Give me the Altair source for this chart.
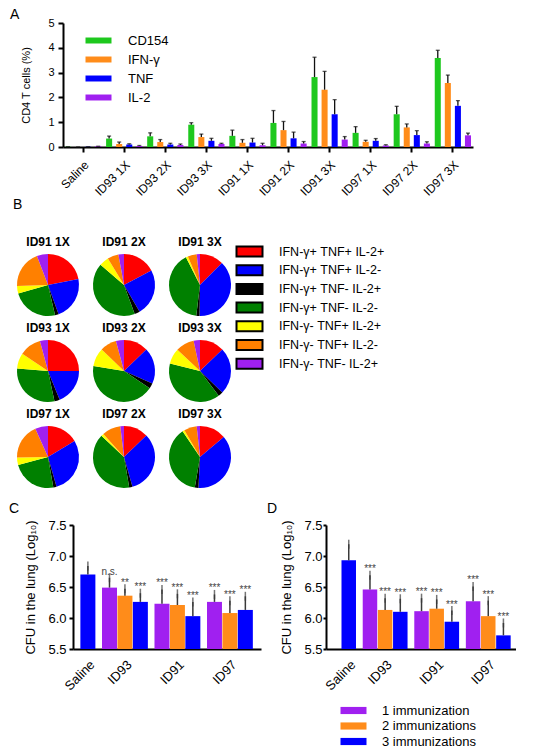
import altair as alt
import pandas as pd

FONT = "Liberation Sans"

# ---------------- Panel A data ----------------
groups_a = ["Saline", "ID93 1X", "ID93 2X", "ID93 3X", "ID91 1X",
            "ID91 2X", "ID91 3X", "ID97 1X", "ID97 2X", "ID97 3X"]
markers_a = ["CD154", "IFN-\u03b3", "TNF", "IL-2"]
cd154_mean = [0.01, 0.34, 0.43, 0.90, 0.45, 0.97, 2.82, 0.57, 1.32, 3.59]
cd154_sem = [0.00, 0.10, 0.14, 0.08, 0.23, 0.50, 0.80, 0.25, 0.32, 0.31]
ifng_mean = [0.00, 0.12, 0.20, 0.40, 0.17, 0.68, 2.31, 0.21, 0.79, 2.58]
ifng_sem = [0.00, 0.08, 0.10, 0.12, 0.13, 0.35, 0.74, 0.06, 0.14, 0.32]
tnf_mean = [0.01, 0.10, 0.10, 0.25, 0.18, 0.35, 1.32, 0.25, 0.48, 1.66]
tnf_sem = [0.00, 0.03, 0.05, 0.10, 0.17, 0.25, 0.59, 0.09, 0.18, 0.21]
il2_mean = [0.03, 0.04, 0.08, 0.12, 0.07, 0.14, 0.30, 0.06, 0.14, 0.47]
il2_sem = [0.00, 0.02, 0.04, 0.03, 0.08, 0.08, 0.12, 0.03, 0.07, 0.09]
colors_a = ["#1ec81e", "#ff8c1a", "#0000ff", "#a020f0"]

# ---------------- Panel B data ----------------
samples_b = ["ID91 1X", "ID91 2X", "ID91 3X",
             "ID93 1X", "ID93 2X", "ID93 3X",
             "ID97 1X", "ID97 2X", "ID97 3X"]
subsets_b = ["IFN-\u03b3+ TNF+ IL-2+", "IFN-\u03b3+ TNF+ IL-2-", "IFN-\u03b3+ TNF- IL-2+",
             "IFN-\u03b3+ TNF- IL-2-", "IFN-\u03b3- TNF+ IL-2+", "IFN-\u03b3- TNF+ IL-2-",
             "IFN-\u03b3- TNF- IL-2+"]
pie_pct = {
    "ID91 1X": [21.9, 22.5, 1.9, 24.2, 3.9, 19.7, 5.8],
    "ID91 2X": [17.2, 24.4, 2.8, 41.9, 5.0, 5.8, 2.9],
    "ID91 3X": [12.5, 37.8, 1.7, 40.6, 1.1, 4.7, 1.7],
    "ID93 1X": [25.0, 18.9, 2.8, 29.7, 8.1, 11.4, 4.2],
    "ID93 2X": [12.8, 18.9, 2.8, 43.1, 9.7, 8.6, 4.2],
    "ID93 3X": [12.8, 24.4, 2.5, 39.2, 8.1, 9.7, 3.3],
    "ID97 1X": [16.4, 29.2, 1.7, 23.6, 3.9, 18.6, 6.7],
    "ID97 2X": [12.8, 32.8, 1.7, 39.7, 1.4, 9.7, 1.9],
    "ID97 3X": [13.9, 36.9, 1.9, 37.8, 1.1, 6.7, 1.7],
}
colors_b = ["#ff0000", "#0000ff", "#000000", "#008000", "#ffff00", "#ff8000", "#a020f0"]

# ---------------- Panels C / D data ----------------
vaccines = ["ID93", "ID91", "ID97"]
imm_labels = ["1 immunization", "2 immunizations", "3 immunizations"]
colors_cd = ["#a020f0", "#ff8c1a", "#0000ff"]

c_saline_mean, c_saline_sem = 6.70, 0.14
c_mean = [[6.49, 6.36, 6.26], [6.23, 6.21, 6.03], [6.26, 6.08, 6.13]]
c_sem = [[0.16, 0.11, 0.14], [0.23, 0.18, 0.23], [0.12, 0.20, 0.22]]
c_sig = [["n.s.", "**", "***"], ["***", "***", "***"], ["***", "***", "***"]]

d_saline_mean, d_saline_sem = 6.93, 0.26
d_mean = [[6.46, 6.13, 6.10], [6.11, 6.15, 5.94], [6.27, 6.03, 5.72]]
d_sem = [[0.23, 0.19, 0.21], [0.21, 0.15, 0.18], [0.24, 0.25, 0.20]]
d_sig = [["***", "***", "***"], ["***", "***", "***"], ["***", "***", "***"]]


def spacer():
    return alt.Chart(pd.DataFrame({"v": [0]})).mark_point(opacity=0).encode(
        x=alt.X("v:Q", axis=None), y=alt.Y("v:Q", axis=None)
    ).properties(width=1, height=1)


# ================= Panel A =================
rows = []
series = [(cd154_mean, cd154_sem), (ifng_mean, ifng_sem), (tnf_mean, tnf_sem), (il2_mean, il2_sem)]
for gi, g in enumerate(groups_a):
    for mi, m in enumerate(markers_a):
        mean, sem = series[mi][0][gi], series[mi][1][gi]
        rows.append({"group": g, "marker": m, "mean": mean, "top": mean + sem})
dfA = pd.DataFrame(rows)


def yA(field):
    return alt.Y(field, scale=alt.Scale(domain=[0, 5]),
                 axis=alt.Axis(title="CD4 T cells (%)", values=[0, 1, 2, 3, 4, 5],
                               labelOverlap=False, labelFontSize=11, titleFontSize=11,
                               titleFontWeight="normal", tickSize=5, tickWidth=2,
                               domainWidth=2, labelPadding=4, titlePadding=16))


baseA = alt.Chart(dfA).encode(
    x=alt.X("group:N", sort=groups_a,
            scale=alt.Scale(paddingInner=0.02, paddingOuter=0.0),
            axis=alt.Axis(title=None, labelAngle=-45, labelFontSize=12, labelPadding=7,
                          tickSize=5, tickWidth=2, domainWidth=2)),
    xOffset=alt.XOffset("marker:N", sort=markers_a,
                        scale=alt.Scale(paddingInner=0.4, paddingOuter=0.2)),
)
barsA = baseA.mark_bar().encode(
    y=yA("mean:Q"),
    color=alt.Color("marker:N", sort=markers_a,
                    scale=alt.Scale(domain=markers_a, range=colors_a),
                    legend=alt.Legend(title=None, orient="none", legendX=28, legendY=10,
                                      symbolType="M-2,-0.46H2V0.46H-2Z", symbolSize=169,
                                      symbolOpacity=1, labelFontSize=13, labelOffset=22,
                                      rowPadding=4, padding=0)),
)
errA = baseA.mark_rule(color="#111111", strokeWidth=1.3).encode(y=yA("mean:Q"), y2="top:Q")
capA = baseA.mark_tick(color="#111111", thickness=1.3, size=4).encode(y=yA("top:Q"))

A = alt.layer(barsA, errA, capA).properties(
    width=410, height=124,
    title=alt.TitleParams("A", anchor="start", frame="bounds", fontSize=14,
                          fontWeight="normal", dx=-11, offset=-5))

# ================= Panel B =================
rowsB = []
for s in samples_b:
    for k, sub in enumerate(subsets_b):
        rowsB.append({"sample": s, "subset": sub, "pct": pie_pct[s][k], "idx": k})
dfB = pd.DataFrame(rowsB)

B = alt.Chart(dfB).mark_arc().encode(
    theta=alt.Theta("pct:Q", stack=True),
    color=alt.Color("subset:N", sort=subsets_b,
                    scale=alt.Scale(domain=subsets_b, range=colors_b),
                    legend=alt.Legend(title=None, orient="none", legendX=225, legendY=-10,
                                      symbolType="M-2,-0.77H2V0.77H-2Z", symbolSize=169,
                                      symbolStrokeColor="black", symbolStrokeWidth=2,
                                      symbolOpacity=1, labelFontSize=12.5, labelOffset=22,
                                      rowPadding=-0.3, padding=0)),
    order=alt.Order("idx:Q"),
).properties(width=62, height=62).facet(
    facet=alt.Facet("sample:N", sort=samples_b,
                    header=alt.Header(title=None, labelFontWeight="bold", labelFontSize=12,
                                      labelPadding=5, labelFont=FONT)),
    columns=3, spacing={"row": 6, "column": 14},
).properties(
    title=alt.TitleParams("B", anchor="start", frame="bounds", fontSize=14,
                          fontWeight="normal", dx=-4, offset=24))


# ================= Panels C / D =================
def cfu_table(sal_mean, sal_sem, means, sems, sigs):
    out = [{"grp": "Saline", "imm": imm_labels[2], "pos": 0.0,
            "mean": sal_mean, "top": sal_mean + sal_sem, "sig": ""}]
    slot = 1
    centers = [0.0]
    for gi, v in enumerate(vaccines):
        for k in range(3):
            pos = slot + 0.4 * (gi + 1)
            out.append({"grp": v, "imm": imm_labels[k], "pos": pos,
                        "mean": means[gi][k], "top": means[gi][k] + sems[gi][k],
                        "sig": sigs[gi][k]})
            if k == 1:
                centers.append(pos)
            slot += 1
    return pd.DataFrame(out), centers


def cfu_chart(df, centers, letter, width, domain, bar_w, tick_size, label_pad, legend, title_dx):
    names = ["Saline"] + vaccines
    expr = "''"
    for c, n in reversed(list(zip(centers, names))):
        expr = f"abs(datum.value - {c}) < 0.01 ? '{n}' : ({expr})"

    def yCD(field):
        return alt.Y(field, scale=alt.Scale(domain=[5.5, 7.5], nice=False, zero=False),
                     axis=alt.Axis(title="CFU in the lung  (Log\u2081\u2080)",
                                   values=[5.5, 6.0, 6.5, 7.0, 7.5], format=".1f",
                                   labelOverlap=False,
                                   labelFontSize=13, titleFontSize=13, titleFontWeight="normal",
                                   tickSize=tick_size, tickWidth=2, domainWidth=2,
                                   labelPadding=label_pad, titlePadding=10))

    base = alt.Chart(df).encode(
        x=alt.X("pos:Q", scale=alt.Scale(domain=domain, nice=False, zero=False),
                axis=alt.Axis(title=None, values=centers, labelExpr=expr, labelAngle=-45,
                              labelFontSize=13, ticks=False, labelPadding=9,
                              labelOverlap=False, domainWidth=2, grid=False)),
    )
    bars = base.mark_bar(width=bar_w).encode(
        y=yCD("mean:Q"),
        y2=alt.datum(5.5),
        color=alt.Color("imm:N", sort=imm_labels,
                        scale=alt.Scale(domain=imm_labels, range=colors_cd),
                        legend=legend),
    )
    err = base.mark_rule(color="#3a3a3a", strokeWidth=1.5).encode(y=yCD("mean:Q"), y2="top:Q")
    cap = base.mark_tick(color="#3a3a3a", thickness=1.5, size=9).encode(y=yCD("top:Q"))
    sig = base.mark_text(fontSize=10, color="#444444", baseline="alphabetic", dy=-3,
                         font=FONT).encode(y=yCD("top:Q"), text="sig:N")
    return alt.layer(bars, err, cap, sig).properties(
        width=width, height=124,
        title=alt.TitleParams(letter, anchor="start", frame="bounds", fontSize=14,
                              fontWeight="normal", dx=title_dx, offset=2))


dfC, centersC = cfu_table(c_saline_mean, c_saline_sem, c_mean, c_sem, c_sig)
dfD, centersD = cfu_table(d_saline_mean, d_saline_sem, d_mean, d_sem, d_sig)

C = cfu_chart(dfC, centersC, "C", 188, [-0.64, 10.89], 15, 4, 3, None, -16)
legD = alt.Legend(title=None, orient="none", legendX=20, legendY=178,
                  symbolType="M-2,-0.55H2V0.55H-2Z", symbolSize=169, symbolOpacity=1,
                  labelFontSize=13, labelOffset=21, rowPadding=0.5, padding=0)
D = cfu_chart(dfD, centersD, "D", 190, [-1.17, 10.7], 14.5, 3, 1, legD, -14)

rowA = alt.hconcat(spacer(), A, spacing=-8).resolve_scale(color="independent")
rowB = alt.hconcat(spacer(), B, spacing=-6).resolve_scale(color="independent")
innerCD = alt.hconcat(C, D, spacing=5).resolve_scale(color="independent")
rowCD = alt.hconcat(spacer(), innerCD, spacing=-9).resolve_scale(color="independent")

top = alt.vconcat(rowA, rowB, spacing=0).resolve_scale(color="independent")
chart = alt.vconcat(top, rowCD, spacing=14).resolve_scale(color="independent").properties(
    padding=0
).configure(font=FONT).configure_axis(
    labelFont=FONT, titleFont=FONT, labelColor="black", titleColor="black",
    domainColor="black", tickColor="black", grid=False
).configure_view(stroke=None).configure_legend(labelFont=FONT, labelColor="black"
).configure_title(font=FONT, color="black")

chart.save("out.html", embed_options={"renderer": "svg", "actions": False})
